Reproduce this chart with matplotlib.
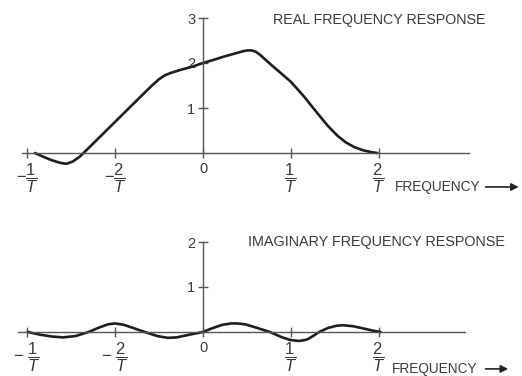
import matplotlib.pyplot as plt

# real part of the response (frequency in units of 1/T)
real_freq = [-1.91, -1.82, -1.72, -1.62, -1.55, -1.48, -1.40, -1.30, -1.15, -1.00,
             -0.85, -0.70, -0.58, -0.50, -0.43, -0.35, -0.25, -0.12, 0.00, 0.12,
             0.25, 0.38, 0.45, 0.50, 0.55, 0.60, 0.65, 0.70, 0.78, 0.87,
             1.00, 1.15, 1.31, 1.42, 1.53, 1.62, 1.72, 1.82, 1.91, 1.98]
real_resp = [0.00, -0.08, -0.16, -0.22, -0.24, -0.19, -0.08, 0.11, 0.40, 0.69,
             0.98, 1.27, 1.50, 1.64, 1.73, 1.79, 1.85, 1.92, 2.00, 2.07,
             2.15, 2.22, 2.26, 2.28, 2.28, 2.25, 2.18, 2.09, 1.95, 1.80,
             1.58, 1.25, 0.86, 0.60, 0.38, 0.24, 0.13, 0.06, 0.02, 0.00]

# imaginary part of the response
imag_freq = [-1.99, -1.85, -1.72, -1.59, -1.45, -1.30, -1.18, -1.08, -1.00, -0.90,
             -0.78, -0.66, -0.52, -0.40, -0.30, -0.18, -0.08, 0.00, 0.10, 0.22,
             0.32, 0.39, 0.48, 0.60, 0.76, 0.90, 1.00, 1.09, 1.18, 1.25,
             1.32, 1.42, 1.52, 1.59, 1.70, 1.82, 1.93, 2.02]
imag_resp = [0.00, -0.06, -0.10, -0.12, -0.09, 0.00, 0.10, 0.17, 0.19, 0.16,
             0.08, 0.00, -0.09, -0.13, -0.12, -0.07, -0.03, 0.00, 0.08, 0.16,
             0.19, 0.19, 0.17, 0.10, 0.00, -0.12, -0.18, -0.20, -0.17, -0.09,
             0.00, 0.09, 0.14, 0.15, 0.13, 0.08, 0.03, 0.00]

x_ticks = [-2, -1, 0, 1, 2]
top_xlabels = [r'$-\dfrac{1}{T}$', r'$-\dfrac{2}{T}$', '0', r'$\dfrac{1}{T}$', r'$\dfrac{2}{T}$']
bot_xlabels = [r'$-\ \dfrac{1}{T}$', r'$-\ \dfrac{2}{T}$', '0', r'$\dfrac{1}{T}$', r'$\dfrac{2}{T}$']

plt.rcParams['font.family'] = 'Liberation Sans'
plt.rcParams['mathtext.fontset'] = 'custom'
plt.rcParams['mathtext.rm'] = 'Liberation Sans'
plt.rcParams['mathtext.it'] = 'Liberation Sans:italic'

AXC = '#555555'
LINEC = '#1e1e1e'
TXT = '#3a3a3a'

fig = plt.figure(figsize=(5.22, 3.76), dpi=100)


def style_axes(ax, ymax, xbounds, xlabels):
    for s in ['top', 'right']:
        ax.spines[s].set_visible(False)
    ax.spines['left'].set_position(('data', 0))
    ax.spines['bottom'].set_position(('data', 0))
    ax.spines['left'].set_bounds(0, ymax)
    ax.spines['bottom'].set_bounds(*xbounds)
    for s in ['left', 'bottom']:
        ax.spines[s].set_color(AXC)
        ax.spines[s].set_linewidth(1.0)
    ax.set_xticks(x_ticks, xlabels)
    ax.set_yticks(list(range(1, ymax + 1)), [str(v) for v in range(1, ymax + 1)])
    ax.tick_params(direction='inout', length=7, width=1.0, color=AXC,
                   labelcolor=TXT, labelsize=10.5)
    ax.tick_params(axis='x', pad=3, labelsize=12)
    ax.tick_params(axis='y', pad=2)
    # the plain "0" label is a bit smaller than the fractions
    ax.get_xticklabels()[2].set_fontsize(10.5)
    ax.patch.set_visible(False)


# top panel: real part (covers pixel rows 0..190)
ax1 = fig.add_axes([0, 186 / 376, 1, 190 / 376])
ax1.set_xlim((0 - 203) / 88, (522 - 203) / 88)
ax1.set_ylim(-(190 - 153) / 45, 153 / 45)
style_axes(ax1, 3, (-2.06, 3.02), top_xlabels)
ax1.plot(real_freq, real_resp, color=LINEC, lw=1.9, solid_capstyle='round')
ax1.text(0.79, 2.95, 'REAL FREQUENCY RESPONSE', fontsize=10.3, color=TXT, va='center')
ax1.text(2.18, -0.755, 'FREQUENCY', fontsize=9.8, color=TXT, va='center')
ax1.annotate('', xy=(3.62, -0.755), xytext=(3.18, -0.755),
             arrowprops=dict(arrowstyle='-|>', color='#222222', lw=1.2,
                             mutation_scale=11))

# bottom panel: imaginary part (covers pixel rows 186..376)
ax2 = fig.add_axes([0, 0, 1, 190 / 376])
ax2.set_xlim((0 - 203) / 88, (522 - 203) / 88)
ax2.set_ylim(-(376 - 332) / 45, (332 - 186) / 45)
style_axes(ax2, 2, (-2.1, 2.98), bot_xlabels)
ax2.plot(imag_freq, imag_resp, color=LINEC, lw=1.9, solid_capstyle='round')
ax2.text(0.51, 2.0, 'IMAGINARY FREQUENCY RESPONSE', fontsize=10.4, color=TXT, va='center')
ax2.text(2.15, -0.82, 'FREQUENCY', fontsize=9.8, color=TXT, va='center')
ax2.annotate('', xy=(3.5, -0.82), xytext=(3.18, -0.82),
             arrowprops=dict(arrowstyle='-|>', color='#222222', lw=1.2,
                             mutation_scale=11))

fig.savefig('out.png', dpi=100)
